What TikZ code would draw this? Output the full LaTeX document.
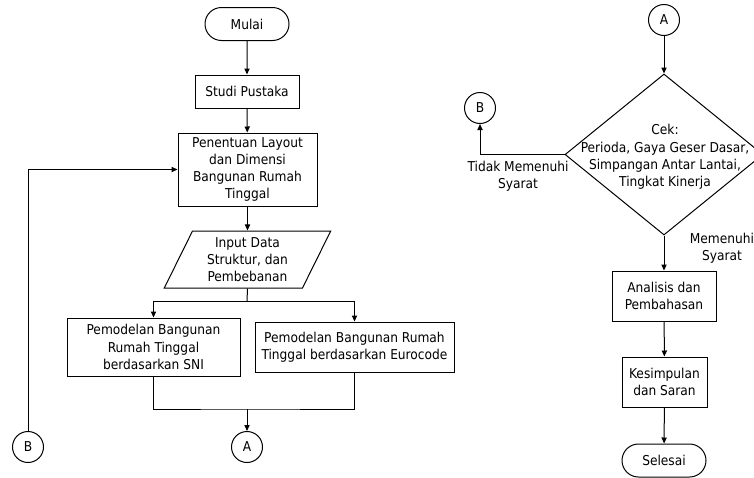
\documentclass[tikz,border=0pt]{standalone}
\usepackage{fontspec}
\setmainfont{DejaVu Sans Condensed}
\usetikzlibrary{shapes.geometric,shapes.misc,arrows.meta,positioning}
\tikzset{
  proses/.style={draw, rectangle, align=center, inner sep=1pt},
  terminal/.style={draw, rounded rectangle, minimum width=42pt, minimum height=16.5pt, inner sep=0pt},
  konektor/.style={draw, circle, minimum size=15.5pt, inner sep=0pt},
  panah/.style={-{Triangle[length=3pt,width=2.6pt]}},
  ket/.style={align=center, inner sep=0pt}
}

\begin{document}
\begin{tikzpicture}[x=0.5pt, y=-0.5pt, line width=0.5pt, font=\fontsize{6.8}{8.6}\selectfont]
    \useasboundingbox (0,0) rectangle (754,477);
    % kolom kiri
    \node[terminal] (mulai) at (247,24) {Mulai};
    \node[proses, minimum width=52pt, minimum height=16.5pt] (studi) at (247,91.5) {Studi Pustaka};
    \node[proses, minimum width=69.5pt, minimum height=36.5pt] (layout) at (247.5,169.5)
        {Penentuan Layout\\dan Dimensi\\Bangunan Rumah\\Tinggal};
    \node[draw, trapezium, trapezium left angle=65, trapezium right angle=115, trapezium stretches=true,
          minimum width=83.5pt, minimum height=28.5pt, inner sep=0pt, align=center] (input) at (247.5,259.5)
        {Input Data\\Struktur, dan\\Pembebanan};
    \node[proses, minimum width=86.5pt, minimum height=29pt] (sni) at (153.5,347)
        {Pemodelan Bangunan\\Rumah Tinggal\\berdasarkan SNI};
    \node[proses, minimum width=99.5pt, minimum height=25pt] (euro) at (354.5,347)
        {Pemodelan Bangunan Rumah\\Tinggal berdasarkan Eurocode};
    \node[konektor] (a1) at (247,447) {A};
    \node[konektor] (b1) at (28,447) {B};
    \coordinate (cabang) at (247,301);
    \coordinate (gabung) at (247,409);

    \draw[panah] (mulai) -- (studi);
    \draw[panah] (studi) -- (layout);
    \draw[panah] (layout) -- (input);
    \draw (input.south) -- (cabang);
    \draw[panah] (cabang) -| (sni.north);
    \draw[panah] (cabang) -| (euro.north);
    \draw (sni.south) |- (gabung) -| (euro.south);
    \draw[panah] (gabung) -- (a1);
    \draw[panah] (b1.north) |- (layout.west);

    % kolom kanan
    \node[konektor] (a2) at (664,20) {A};
    \node[draw, diamond, minimum width=99pt, minimum height=80.5pt, inner sep=0pt] (cek) at (664,154.5) {};
    \node[ket] (cektext) at (665,157)
        {Cek:\\Perioda, Gaya Geser Dasar,\\Simpangan Antar Lantai,\\Tingkat Kinerja};
    \node[konektor] (b2) at (480,108) {B};
    \node[proses, minimum width=52pt, minimum height=25pt] (analisis) at (664,296) {Analisis dan\\Pembahasan};
    \node[proses, minimum width=42.5pt, minimum height=25pt] (simpul) at (664.5,382) {Kesimpulan\\dan Saran};
    \node[terminal] (selesai) at (664,460.5) {Selesai};

    \draw[panah] (a2) -- (cek.north);
    \draw[panah] (cek.west) -| (b2.south);
    \node[ket] (tidak) at (518,176) {Tidak Memenuhi\\Syarat};
    \draw[panah] (cek.south) -- (analisis.north);
    \node[ket] (penuh) at (722,248) {Memenuhi\\Syarat};
    \draw[panah] (analisis) -- (simpul);
    \draw[panah] (simpul) -- (selesai);
\end{tikzpicture}
\end{document}
